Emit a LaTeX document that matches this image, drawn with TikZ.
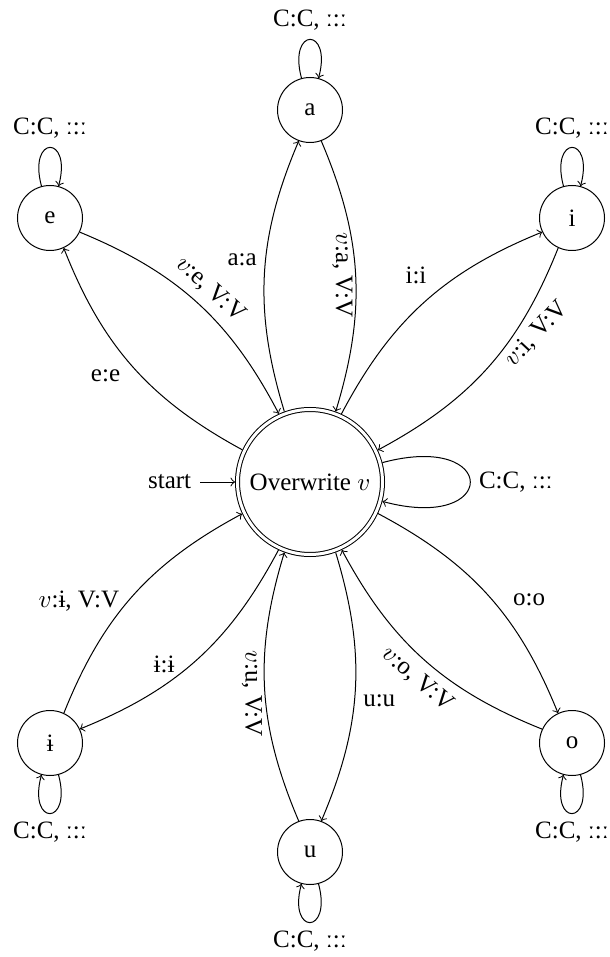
\documentclass[tikz,border=0pt]{standalone}
\usepackage{fontspec}
\setmainfont{Liberation Serif}
\usetikzlibrary{positioning}

\tikzset{
  vstate/.style={circle,draw,minimum size=26pt,inner sep=0pt},
  hub/.style={circle,draw,double,double distance=1.2pt,minimum size=58pt,inner sep=0pt,outer sep=1pt},
  trans/.style={->,bend left=20},
  vlab/.style={anchor=north,rotate=-90,inner sep=1pt},
}

\begin{document}
\begin{tikzpicture}[x=0.4pt,y=0.4pt]
  \useasboundingbox (0,0) rectangle (610,-957);
  % states
  \node[hub] (C) at (310,-482) {Overwrite $v$};
  \node[vstate] (a) at (310,-110) {a};
  \node[vstate] (e) at (50,-218) {e};
  \node[vstate] (i) at (572,-218) {i};
  \node[vstate] (ib) at (50,-743) {ɨ};
  \node[vstate] (u) at (310,-852) {u};
  \node[vstate] (o) at (572,-743) {o};
  \node (start) [left=14pt of C] {start};
  \draw[->] (start) -- (C);
  % transitions
  \draw[trans] (C) to node[pos=0.56,left] {a:a} (a);
  \draw[trans] (a) to node[pos=0.5,vlab] {$v$:a, V:V} (C);
  \draw[trans] (C) to node[pos=0.45,left=5pt] {e:e} (e);
  \draw[trans] (e) to node[pos=0.5,sloped,above] {$v$:e, V:V} (C);
  \draw[trans] (C) to node[pos=0.56,above left] {i:i} (i);
  \draw[trans] (i) to node[pos=0.28,anchor=north,rotate=47] {$v$:i, V:V} (C);
  \draw[trans] (C) to node[pos=0.6,above right] {o:o} (o);
  \draw[trans] (o) to node[pos=0.47,sloped,below] {$v$:o, V:V} (C);
  \draw[trans] (C) to node[pos=0.55,right] {u:u} (u);
  \draw[trans] (u) to node[pos=0.48,vlab] {$v$:u, V:V} (C);
  \draw[trans] (C) to node[pos=0.6,anchor=south east,inner sep=1pt] {ɨ:ɨ} (ib);
  \draw[trans] (ib) to node[pos=0.47,left] {$v$:ɨ, V:V} (C);
  % loops
  \draw[->] (a) to[loop above] node[above] {C:C, ː:ː} (a);
  \draw[->] (e) to[loop above] node[above] {C:C, ː:ː} (e);
  \draw[->] (i) to[loop above] node[above] {C:C, ː:ː} (i);
  \draw[->] (ib) to[loop below] node[below] {C:C, ː:ː} (ib);
  \draw[->] (u) to[loop below] node[below] {C:C, ː:ː} (u);
  \draw[->] (o) to[loop below] node[below] {C:C, ː:ː} (o);
  \draw[->] (C) to[loop right] node[right] {C:C, ː:ː} (C);
\end{tikzpicture}
\end{document}
